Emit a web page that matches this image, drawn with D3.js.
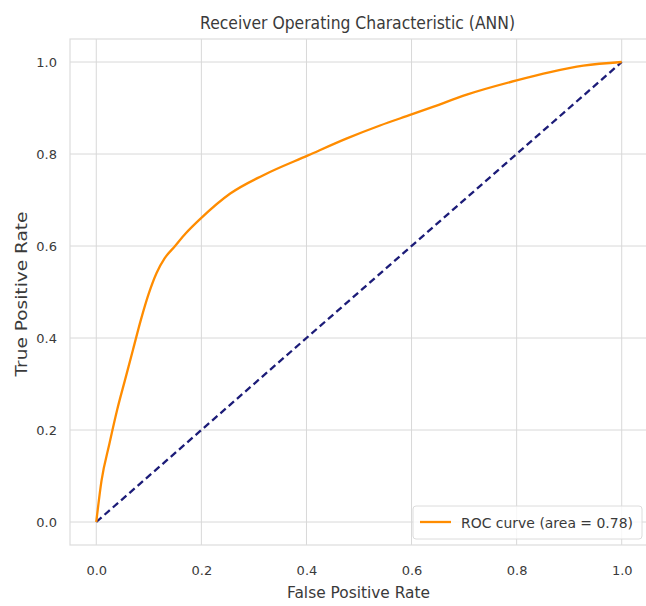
<!DOCTYPE html>
<html>
<head>
<meta charset="utf-8">
<script src="https://cdn.jsdelivr.net/npm/d3@7"></script>
<style>
  body { margin: 0; background: #fff; }
  text { font-family: "DejaVu Sans", sans-serif; fill: #3a3a3a; }
</style>
</head>
<body>
<div id="chart"></div>
<script>
// ROC curve
var fpr = [0, 0.01, 0.025, 0.04, 0.055, 0.07, 0.085, 0.1, 0.115, 0.13, 0.15, 0.17, 0.199, 0.255, 0.318, 0.403, 0.477, 0.54, 0.6, 0.642, 0.705, 0.8, 0.864, 0.927, 1.0];
var tpr = [0, 0.09, 0.17, 0.245, 0.31, 0.375, 0.44, 0.497, 0.542, 0.573, 0.6, 0.627, 0.66, 0.714, 0.754, 0.797, 0.834, 0.862, 0.886, 0.903, 0.929, 0.96, 0.978, 0.992, 1.0];
var chance = [0, 1];
var ticks = [0, 0.2, 0.4, 0.6, 0.8, 1.0];
var legendLabel = "ROC curve (area = 0.78)";

(function () {
  var width = 646, height = 606;
  var mLeft = 70, mRight = 648, mTop = 39, mBottom = 545;

  var svg = d3.select("#chart").append("svg")
    .attr("width", width)
    .attr("height", height);

  var x = d3.scaleLinear().domain([-0.05, 1.05]).range([mLeft, mRight]);
  var y = d3.scaleLinear().domain([-0.05, 1.05]).range([mBottom, mTop]);

  // grid
  svg.append("g").selectAll("line").data(ticks).enter().append("line")
    .attr("x1", function(d) { return x(d); }).attr("x2", function(d) { return x(d); })
    .attr("y1", mTop).attr("y2", mBottom)
    .style("stroke", "#d8d8d8").style("stroke-width", 1);
  svg.append("g").selectAll("line").data(ticks).enter().append("line")
    .attr("y1", function(d) { return y(d); }).attr("y2", function(d) { return y(d); })
    .attr("x1", mLeft).attr("x2", mRight)
    .style("stroke", "#d8d8d8").style("stroke-width", 1);

  // frame
  svg.append("rect")
    .attr("x", mLeft).attr("y", mTop)
    .attr("width", mRight - mLeft).attr("height", mBottom - mTop)
    .style("fill", "none").style("stroke", "#dcdcdc").style("stroke-width", 1.2);

  // axes: labels only, no tick marks (seaborn whitegrid)
  var xAxis = svg.append("g")
    .attr("transform", "translate(0," + mBottom + ")")
    .call(d3.axisBottom(x).tickValues(ticks).tickFormat(d3.format(".1f")).tickSize(0).tickPadding(21));
  var yAxis = svg.append("g")
    .attr("transform", "translate(" + mLeft + ",0)")
    .call(d3.axisLeft(y).tickValues(ticks).tickFormat(d3.format(".1f")).tickSize(0).tickPadding(13));
  [xAxis, yAxis].forEach(function(a) {
    a.select(".domain").remove();
    a.selectAll("text")
      .style("font-size", "13px")
      .style("font-family", "DejaVu Sans, sans-serif")
      .attr("fill", "#444");
  });

  var line = d3.line()
    .x(function(d) { return x(d[0]); })
    .y(function(d) { return y(d[1]); });

  // chance line
  svg.append("path")
    .datum(chance.map(function(d) { return [d, d]; }))
    .attr("d", line)
    .style("fill", "none").style("stroke", "#1c1c78")
    .style("stroke-width", 2.3).style("stroke-dasharray", "7,4");

  // ROC curve
  svg.append("path")
    .datum(fpr.map(function(d, i) { return [d, tpr[i]]; }))
    .attr("d", line.curve(d3.curveMonotoneX))
    .style("fill", "none").style("stroke", "#ff8c00")
    .style("stroke-width", 2.3);

  // legend
  var lg = svg.append("g").attr("transform", "translate(413,506)");
  lg.append("rect")
    .attr("width", 229).attr("height", 33).attr("rx", 3)
    .style("fill", "#fff").style("fill-opacity", 0.8)
    .style("stroke", "#dcdcdc");
  lg.append("line")
    .attr("x1", 7).attr("x2", 38).attr("y1", 16).attr("y2", 16)
    .style("stroke", "#ff8c00").style("stroke-width", 2.3);
  lg.append("text")
    .attr("x", 48).attr("y", 22)
    .attr("textLength", 172).attr("lengthAdjust", "spacingAndGlyphs")
    .style("font-size", "14px")
    .text(legendLabel);

  // title and axis labels
  svg.append("text")
    .attr("x", 357.5).attr("y", 29)
    .attr("text-anchor", "middle")
    .attr("textLength", 315).attr("lengthAdjust", "spacingAndGlyphs")
    .style("font-size", "17px")
    .text("Receiver Operating Characteristic (ANN)");
  svg.append("text")
    .attr("x", 358.5).attr("y", 598)
    .attr("text-anchor", "middle")
    .attr("textLength", 143).attr("lengthAdjust", "spacingAndGlyphs")
    .style("font-size", "15px")
    .text("False Positive Rate");
  svg.append("text")
    .attr("transform", "translate(26.5,294) rotate(-90)")
    .attr("text-anchor", "middle")
    .attr("textLength", 165).attr("lengthAdjust", "spacingAndGlyphs")
    .style("font-size", "15px")
    .text("True Positive Rate");
})();
</script>
</body>
</html>
